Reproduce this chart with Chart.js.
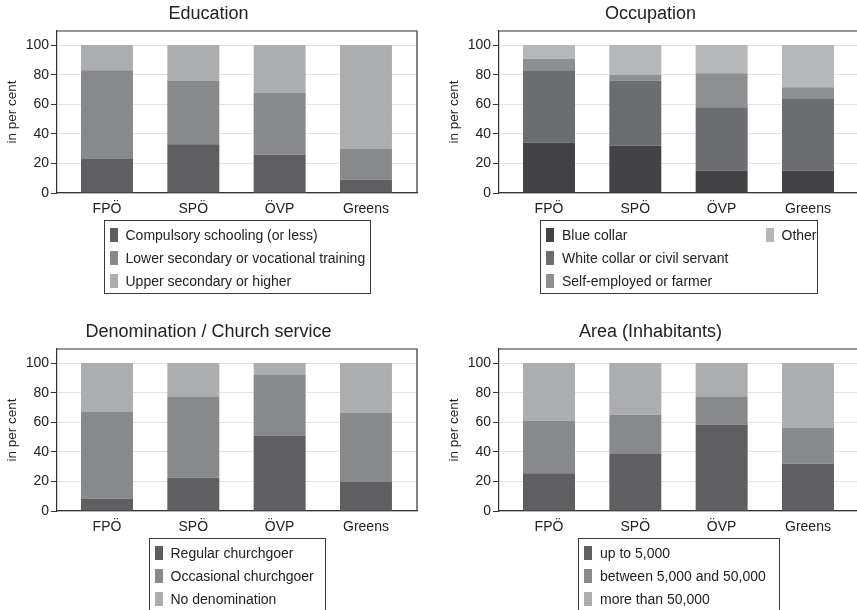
<!DOCTYPE html>
<html lang="en">
<head>
<meta charset="UTF-8">
<title>Party electorates</title>
<script src="https://cdn.jsdelivr.net/npm/chart.js@4.4.0/dist/chart.umd.min.js"></script>
<style>
  html, body { margin: 0; padding: 0; background: #fff; overflow: hidden; width: 857px; height: 610px; }
  body { position: relative; font-family: "Liberation Sans", Arial, sans-serif; color: #222; }
  .panel { position: absolute; width: 428px; height: 300px; }
  .panel canvas { position: absolute; left: 0; top: 0; }
  .legwrap { position: absolute; left: 57px; width: 360px; top: 220px; display: flex; justify-content: center; }
  .legend { box-sizing: border-box; border: 1px solid #3a3a3a; display: grid; grid-auto-flow: column;
            grid-template-rows: repeat(3, 23px); column-gap: 37px; padding: 2px 8px 1px 5px;
            font-size: 14px; white-space: nowrap; }
  .legend .item { display: flex; align-items: center; }
  .legend .sw { width: 8px; height: 14px; margin-right: 8px; flex: none; }
</style>
</head>
<body>
<div class="panel" style="left:0;top:0"><canvas id="edu" width="428" height="300"></canvas></div>
<div class="panel" style="left:442px;top:0"><canvas id="occ" width="428" height="300"></canvas></div>
<div class="panel" style="left:0;top:318px"><canvas id="den" width="428" height="300"></canvas></div>
<div class="panel" style="left:442px;top:318px"><canvas id="area" width="428" height="300"></canvas></div>

<script>
// parties on the x axis
const parties = ['FPÖ', 'SPÖ', 'ÖVP', 'Greens'];
const yTicks = [0, 20, 40, 60, 80, 100];

// Education
const eduLabels = ['Compulsory schooling (or less)', 'Lower secondary or vocational training', 'Upper secondary or higher'];
const eduCompulsory = [23, 33, 26, 9];
const eduLower = [60, 43, 42, 21];
const eduUpper = [17, 24, 32, 70];

// Occupation
const occLabels = ['Blue collar', 'White collar or civil servant', 'Self-employed or farmer', 'Other'];
const occBlue = [34, 32, 15, 15];
const occWhite = [49, 44, 43, 49];
const occSelf = [7.5, 4, 23, 7.5];
const occOther = [9.5, 20, 19, 28.5];

// Denomination / church service
const denLabels = ['Regular churchgoer', 'Occasional churchgoer', 'No denomination'];
const denRegular = [8.5, 22.5, 51, 20];
const denOccasional = [58.5, 54.5, 41, 46.5];
const denNone = [33, 23, 8, 33.5];

// Area (inhabitants)
const areaLabels = ['up to 5,000', 'between 5,000 and 50,000', 'more than 50,000'];
const areaSmall = [25.5, 38.5, 58.5, 32];
const areaMid = [35.5, 26.5, 18.5, 24.5];
const areaLarge = [39, 35, 23, 43.5];

const grey3 = ['#5f5f61', '#88898b', '#acadaf'];
const grey4 = ['#434345', '#6c6d70', '#8e8f91', '#b6b7b9'];
const FONT = "'Liberation Sans', Arial, sans-serif";
const INK = '#222';

// top and right edges of the plot frame
const framePlugin = {
  id: 'frame',
  afterDraw(chart) {
    const { ctx, chartArea: a } = chart;
    ctx.save();
    ctx.strokeStyle = '#333';
    ctx.lineWidth = 1.2;
    ctx.beginPath();
    ctx.moveTo(a.left, a.top);
    ctx.lineTo(a.right, a.top);
    ctx.lineTo(a.right, a.bottom);
    ctx.stroke();
    ctx.restore();
  }
};

function makePanel(id, title, labels, series, colors, legendWidth) {
  const datasets = series.map((vals, k) => ({
    label: labels[k],
    data: vals.map((v, i) => ({ x: i, y: v })),
    backgroundColor: colors[k],
    borderWidth: 0,
    categoryPercentage: 1,
    barPercentage: 0.602
  }));

  new Chart(document.getElementById(id), {
    type: 'bar',
    data: { datasets },
    plugins: [framePlugin],
    options: {
      responsive: false,
      animation: false,
      layout: { padding: { left: 0, right: 11, top: 0, bottom: 0 } },
      plugins: {
        legend: { display: false },
        tooltip: { enabled: false },
        title: {
          display: true, text: title, color: INK,
          font: { family: FONT, size: 18, weight: 'normal' },
          padding: { top: 3, bottom: 6.4 }
        }
      },
      scales: {
        x: {
          type: 'linear', stacked: true, min: -0.579, max: 3.591, offset: false,
          afterBuildTicks: s => { s.ticks = parties.map((p, i) => ({ value: i })); },
          afterFit: s => { s.height = 107; },
          grid: { display: false, drawTicks: false, offset: false },
          border: { display: true, color: '#333', width: 1.2 },
          ticks: {
            callback: v => parties[v], autoSkip: false, maxRotation: 0,
            padding: 8, color: INK, font: { family: FONT, size: 14 }
          }
        },
        y: {
          stacked: true, min: 0, max: 109.5,
          afterBuildTicks: s => { s.ticks = yTicks.map(v => ({ value: v })); },
          afterFit: s => { s.width = 57; },
          grid: { color: '#e3e3e3', lineWidth: 1, tickColor: '#333', tickLength: 6 },
          border: { display: true, color: '#333', width: 1.2 },
          ticks: { padding: 2, color: INK, font: { family: FONT, size: 14 } },
          title: {
            display: true, text: 'in per cent', color: INK,
            font: { family: FONT, size: 13.5 }, padding: { top: 4, bottom: 0 }
          }
        }
      }
    }
  });

  // legend box under the plot
  const wrap = document.createElement('div');
  wrap.className = 'legwrap';
  const box = document.createElement('div');
  box.className = 'legend';
  box.style.width = legendWidth + 'px';
  labels.forEach((lab, k) => {
    const item = document.createElement('div');
    item.className = 'item';
    const sw = document.createElement('span');
    sw.className = 'sw';
    sw.style.background = colors[k];
    item.appendChild(sw);
    item.appendChild(document.createTextNode(lab));
    box.appendChild(item);
  });
  wrap.appendChild(box);
  document.getElementById(id).parentNode.appendChild(wrap);
}

makePanel('edu', 'Education', eduLabels, [eduCompulsory, eduLower, eduUpper], grey3, 267);
makePanel('occ', 'Occupation', occLabels, [occBlue, occWhite, occSelf, occOther], grey4, 278);
makePanel('den', 'Denomination / Church service', denLabels, [denRegular, denOccasional, denNone], grey3, 177);
makePanel('area', 'Area (Inhabitants)', areaLabels, [areaSmall, areaMid, areaLarge], grey3, 202);
</script>
</body>
</html>
